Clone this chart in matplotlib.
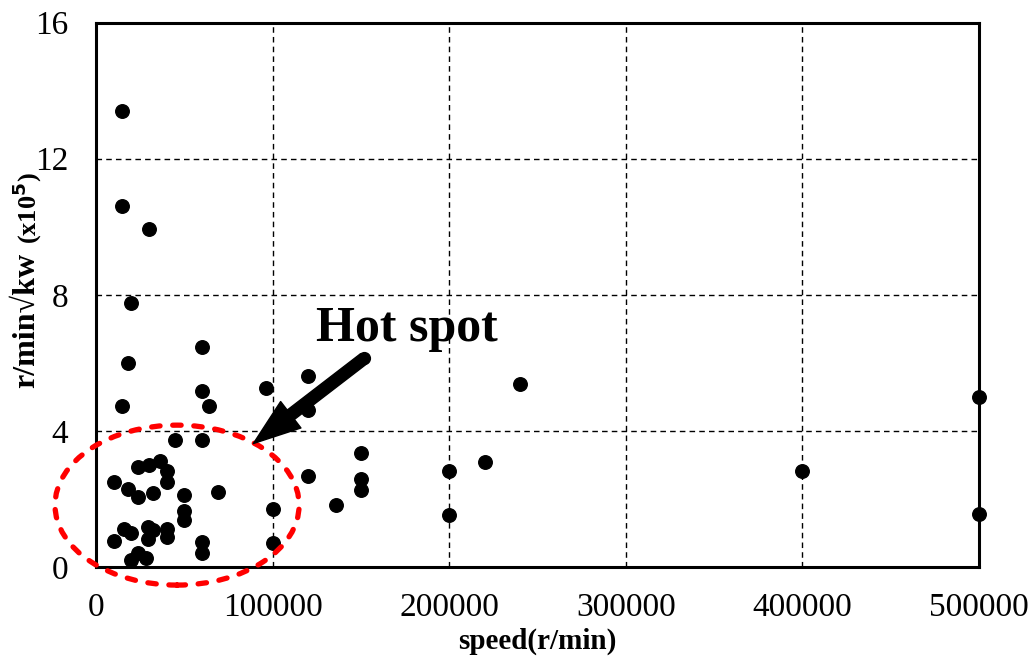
import numpy as np
import matplotlib.pyplot as plt
from matplotlib.patches import Ellipse

plt.rcParams['font.family'] = ['Liberation Serif', 'DejaVu Serif']

# speed (r/min) and r/min*sqrt(kW) (x10^5) for each machine
speed = [15000, 15000, 30000, 20000, 18000, 60000, 60000, 64000, 15000, 96000,
         120000, 120000, 240000, 150000, 120000, 150000, 150000, 136000, 100000, 100000,
         200000, 200000, 220000, 400000, 500000, 500000,
         45000, 60000, 24000, 30000, 36000, 40000, 40000, 10000, 18000, 24000,
         32000, 50000, 69000, 50000, 50000, 16000, 20000, 29600, 32400, 40000,
         40000, 29600, 10000, 60000, 60000, 24000, 28300, 19800]
ratio = [13.4, 10.6, 9.94, 7.75, 6.01, 6.47, 5.18, 4.74, 4.74, 5.25,
         5.61, 4.61, 5.37, 3.34, 2.67, 2.59, 2.26, 1.83, 1.71, 0.71,
         2.82, 1.54, 3.09, 2.82, 5.0, 1.56,
         3.72, 3.74, 2.95, 3.0, 3.12, 2.82, 2.51, 2.51, 2.29, 2.07,
         2.17, 2.12, 2.21, 1.65, 1.38, 1.11, 0.99, 1.17, 1.09, 1.11,
         0.89, 0.81, 0.76, 0.74, 0.40, 0.40, 0.26, 0.21]

xticks = [0, 100000, 200000, 300000, 400000, 500000]
yticks = [0, 4, 8, 12, 16]

fig = plt.figure(figsize=(10.3, 6.64), dpi=100)
ax = fig.add_axes([0.0932, 0.146, 0.8573, 0.820])

ax.scatter(speed, ratio, s=95, color='black', zorder=3, clip_on=False)

ax.set_xlim(0, 500000)
ax.set_ylim(0, 16)
ax.set_xticks(xticks)
ax.set_yticks(yticks)
ax.set_xticklabels([str(v) for v in xticks], fontsize=24)
ax.set_yticklabels([str(v) for v in yticks], fontsize=24)
ax.tick_params(length=0)
ax.tick_params(axis='x', pad=18)
ax.tick_params(axis='y', pad=20)
ax.grid(True, color='black', linestyle=(0, (4, 3)), linewidth=1.0)
ax.set_axisbelow(True)
for sp in ax.spines.values():
    sp.set_linewidth(2.2)

ax.set_xlabel('speed(r/min)', fontsize=21, fontweight='bold', labelpad=4)

# y label: main part plus smaller multiplier
fig.text(0.026, 0.517, 'r/min\u221akw', rotation=90, fontsize=23, fontweight='bold',
         ha='center', va='center')
fig.text(0.027, 0.686, '(x10$^{\\mathbf{5}}$)', rotation=90, fontsize=19, fontweight='bold',
         ha='center', va='center')

# hot spot region
ell = Ellipse((45900, 1.82), 138200, 4.7, fill=False, edgecolor='red',
              linewidth=3.8, linestyle=(0, (1.6, 2.4)), capstyle='round',
              zorder=4, clip_on=False)
ax.add_patch(ell)

ax.annotate('', xy=(89100, 3.63), xytext=(151800, 6.13),
            arrowprops=dict(facecolor='black', edgecolor='black', width=8.5,
                            headwidth=24, headlength=34, shrink=0),
            zorder=5)
ax.plot([151800], [6.13], 'o', color='black', markersize=8.5, zorder=5)
ax.text(176000, 7.0, 'Hot spot', fontsize=36, fontweight='bold',
        ha='center', va='center', zorder=5)

plt.savefig('out.png', dpi=100)
